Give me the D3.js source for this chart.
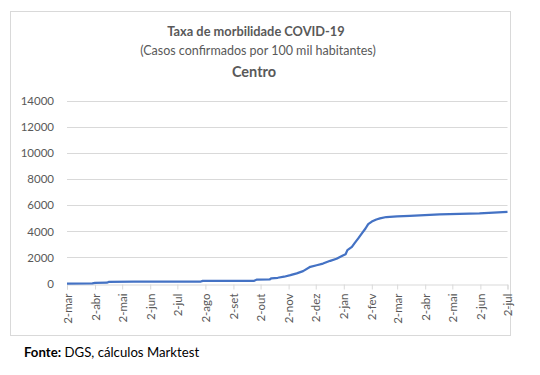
<!DOCTYPE html>
<html><head><meta charset="utf-8">
<script src="https://cdn.jsdelivr.net/npm/d3@7"></script>
<style>
html,body{margin:0;padding:0;background:#fff;}
svg{display:block;}
</style></head>
<body>
<svg id="chart" width="540" height="375"></svg>
<script>
const titleText = "Taxa de morbilidade COVID-19";
const subtitleText = "(Casos confirmados por 100 mil habitantes)";
const regionText = "Centro";
const dates = ["2020-03-02","2020-03-30","2020-04-02","2020-04-15","2020-04-17","2020-05-15","2020-07-28","2020-07-30","2020-09-25","2020-09-28","2020-10-12","2020-10-14","2020-10-21","2020-10-28","2020-11-04","2020-11-11","2020-11-18","2020-11-26","2020-12-03","2020-12-10","2020-12-18","2020-12-25","2021-01-01","2021-01-04","2021-01-06","2021-01-11","2021-01-14","2021-01-18","2021-01-22","2021-01-26","2021-01-29","2021-02-02","2021-02-07","2021-02-11","2021-02-18","2021-03-02","2021-03-16","2021-04-18","2021-06-01","2021-07-02"];
const values = [0,10,50,60,120,140,150,200,210,300,310,400,440,520,640,780,950,1280,1400,1530,1740,1900,2150,2250,2560,2810,3100,3460,3850,4220,4550,4750,4910,4990,5100,5150,5190,5300,5380,5500];
const yTicks = [0,2000,4000,6000,8000,10000,12000,14000];
const monthNames = ["jan","fev","mar","abr","mai","jun","jul","ago","set","out","nov","dez"];
const xTickDates = ["2020-03-02","2020-04-02","2020-05-02","2020-06-02","2020-07-02","2020-08-02","2020-09-02","2020-10-02","2020-11-02","2020-12-02","2021-01-02","2021-02-02","2021-03-02","2021-04-02","2021-05-02","2021-06-02","2021-07-02"];
const sourceBold = "Fonte:";
const sourceText = " DGS, cálculos Marktest";

const parse = d3.utcParse("%Y-%m-%d");
const data = dates.map((d,i)=>({date:parse(d), value:values[i]}));
const ticks = xTickDates.map(parse);

const svg = d3.select("#chart");
const font = "Lato, 'Open Sans', sans-serif";

svg.append("rect").attr("x",10.5).attr("y",11.5).attr("width",500).attr("height",324)
  .attr("fill","#fff").attr("stroke","#d9d9d9").attr("stroke-width",1);

const x = d3.scaleUtc().domain([parse("2020-03-02"), parse("2021-07-02")]).range([67, 507.5]);
const y = d3.scaleLinear().domain([0,14000]).range([283.5, 101]);

// gridlines
svg.append("g").selectAll("line").data(yTicks.filter(v=>v>0)).join("line")
  .attr("x1",67).attr("x2",507.5).attr("y1",d=>Math.round(y(d))+0.5).attr("y2",d=>Math.round(y(d))+0.5)
  .attr("stroke","#d9d9d9").attr("stroke-width",1);

// y axis
const yAxis = svg.append("g").attr("transform","translate(67,0)")
  .call(d3.axisLeft(y).tickValues(yTicks).tickSize(0).tickPadding(13).tickFormat(d3.format("d")));
yAxis.select(".domain").remove();
yAxis.selectAll("text").attr("font-family",font).attr("font-size","11.5px").attr("fill","#595959");

// x axis
const xAxis = svg.append("g").attr("transform","translate(0,"+(Math.round(y(0))+0.5)+")")
  .call(d3.axisBottom(x).tickValues(ticks).tickSize(5).tickPadding(4)
    .tickFormat(d=>d.getUTCDate()+"-"+monthNames[d.getUTCMonth()]));
xAxis.select(".domain").attr("stroke","#d9d9d9");
xAxis.selectAll(".tick line").attr("stroke","#d9d9d9");
xAxis.selectAll("text").attr("font-family",font).attr("font-size","11.5px").attr("fill","#595959")
  .attr("transform","rotate(-90)").attr("text-anchor","end").attr("dy","0.35em").attr("x",-9).attr("y",0);

// line
svg.append("path").datum(data)
  .attr("d", d3.line().x(d=>x(d.date)).y(d=>y(d.value)))
  .attr("fill","none").attr("stroke","#4472c4").attr("stroke-width",2.25).attr("stroke-linejoin","round");

// titles
svg.append("text").attr("x",256).attr("y",36).attr("text-anchor","middle")
  .attr("font-family",font).attr("font-size","12.8px").attr("font-weight","bold").attr("fill","#595959").text(titleText);
svg.append("text").attr("x",258).attr("y",55).attr("text-anchor","middle")
  .attr("font-family",font).attr("font-size","12.5px").attr("fill","#595959").text(subtitleText);
svg.append("text").attr("x",254).attr("y",77).attr("text-anchor","middle")
  .attr("font-family",font).attr("font-size","14.5px").attr("font-weight","bold").attr("fill","#595959").text(regionText);

// source
const src = svg.append("text").attr("x",24).attr("y",357).attr("font-family",font).attr("font-size","13.2px").attr("fill","#000");
src.append("tspan").attr("font-weight","bold").text(sourceBold);
src.append("tspan").text(sourceText);
</script>
</body></html>
